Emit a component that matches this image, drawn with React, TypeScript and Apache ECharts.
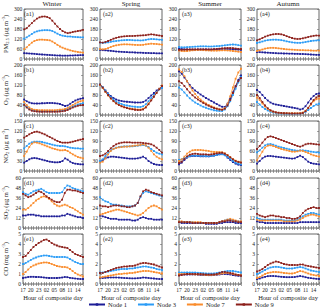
import React, { useEffect, useRef } from "react";
import * as echarts from "echarts";

const FONT = "'Liberation Serif', 'DejaVu Serif', serif";

const hours = ["17","18","19","20","21","22","23","00","01","02","03","04","05","06","07","08","09","10","11","12","13","14","15","16"];
const seasons = ["Winter", "Spring", "Summer", "Autumn"];
const nodes = ["Node 1", "Node 3", "Node 7", "Node 9"];
const nodeColors = ["#1c1c96", "#2b9cf6", "#fa8c2c", "#8c1f1a"];

// PM2.5 (µg m-3) — [Node1, Node3, Node7, Node9]
const pm25Winter = [
  [35,34,33,32,31,29,28,27,26,25,24,23,22,21,21,20,20,20,21,21,22,22,23,23],
  [122,130,140,150,160,166,170,172,173,173,172,168,160,152,145,140,137,135,135,133,132,131,130,130],
  [60,70,85,98,108,113,116,116,115,114,112,105,95,85,75,68,62,57,52,48,45,42,40,38],
  [178,185,200,215,230,242,250,254,255,252,245,230,212,195,180,168,160,155,158,162,165,168,170,175],
];
const pm25Spring = [
  [55,53,52,50,49,47,45,44,43,42,41,40,40,39,38,38,37,36,36,35,35,34,34,34],
  [98,97,98,100,103,106,108,110,112,113,114,114,113,112,112,111,112,115,118,120,119,118,116,115],
  [60,58,60,65,72,78,82,85,87,88,88,87,86,85,84,84,85,88,90,92,91,90,88,86],
  [100,98,102,108,115,122,127,131,134,136,137,138,138,139,140,141,142,143,146,148,146,143,141,138],
];
const pm25Summer = [
  [62,60,58,57,56,56,56,57,57,57,57,56,56,57,58,59,60,60,60,59,58,57,56,55],
  [72,70,70,71,72,73,74,75,76,76,76,75,75,76,77,78,80,82,84,86,87,86,83,80],
  [50,48,47,48,50,52,53,54,54,53,52,51,50,50,50,51,52,52,51,50,48,46,44,42],
  [55,55,56,57,58,58,58,58,58,58,58,58,58,59,60,62,64,65,66,66,65,63,61,60],
];
const pm25Autumn = [
  [42,41,40,39,38,37,36,35,34,34,33,33,32,32,31,31,30,30,29,28,27,26,25,25],
  [96,100,105,110,113,115,116,116,115,113,110,106,103,100,98,97,97,99,102,105,108,110,111,112],
  [48,52,57,62,65,67,67,66,64,62,60,58,57,56,55,54,53,53,52,52,51,50,50,50],
  [112,118,126,134,140,145,148,150,150,148,143,137,131,126,122,120,121,124,128,132,136,139,141,140],
];

// O3 (µg m-3)
const o3Winter = [
  [62,55,50,47,46,46,46,47,47,48,48,48,47,46,44,40,36,38,45,52,58,62,65,67],
  [42,32,25,20,17,16,15,15,15,15,15,15,15,16,17,18,20,24,29,34,38,42,45,47],
  [52,40,30,24,21,20,19,19,19,19,19,19,19,20,21,22,24,28,34,40,46,51,55,58],
  [40,30,22,17,15,14,13,13,13,13,13,13,13,13,14,15,17,20,25,30,34,37,39,40],
];
const o3Spring = [
  [120,110,98,86,76,68,62,58,56,54,53,52,51,50,50,50,52,58,68,78,88,98,105,110],
  [122,112,98,84,72,62,54,48,44,40,38,36,34,33,32,32,35,43,55,68,80,92,102,108],
  [120,108,92,78,65,55,46,40,35,31,28,26,24,23,22,22,25,33,46,60,75,90,105,118],
  [122,110,94,80,67,56,47,40,35,31,28,25,23,21,20,20,22,30,43,58,73,88,103,116],
];
const o3Summer = [
  [175,165,150,135,120,108,98,90,82,75,68,62,56,50,44,38,33,32,45,65,90,115,140,158],
  [110,102,90,78,67,58,50,44,38,33,29,25,22,19,17,16,16,22,35,55,80,105,130,152],
  [182,172,155,135,115,98,84,72,62,53,46,40,35,30,26,23,22,28,45,75,110,145,170,185],
  [135,128,116,103,90,79,70,62,55,48,42,37,32,28,25,22,21,25,38,60,88,115,135,148],
];
const o3Autumn = [
  [100,92,80,68,58,50,45,42,40,38,36,34,32,30,28,26,22,25,35,50,65,76,84,86],
  [52,42,32,24,18,13,10,8,7,6,6,5,5,5,5,5,6,8,13,20,28,36,42,45],
  [70,60,46,34,24,17,13,10,9,8,7,7,7,7,7,7,8,10,17,28,42,55,63,66],
  [80,68,52,38,27,19,14,11,9,8,7,7,6,6,6,6,6,8,15,28,45,60,70,76],
];

// NO2 (µg m-3)
const no2Winter = [
  [25,30,35,38,39,38,36,34,32,30,28,27,26,26,27,30,38,34,28,24,22,21,20,20],
  [68,75,82,86,88,88,88,87,85,83,81,79,77,76,75,75,74,72,70,69,68,68,67,67],
  [45,58,72,82,86,85,83,80,77,74,71,68,66,64,62,62,63,60,55,50,46,42,40,38],
  [100,105,110,114,117,118,116,113,110,106,102,98,94,90,87,85,85,85,86,88,90,92,94,96],
];
const no2Spring = [
  [28,33,38,41,43,43,42,41,40,39,38,37,37,37,38,40,43,38,30,25,21,19,18,18],
  [30,35,45,55,62,67,70,72,73,74,74,74,74,75,76,77,78,76,72,66,60,55,52,50],
  [25,28,38,50,60,66,69,71,72,73,73,74,75,76,77,78,80,77,70,60,50,43,38,35],
  [45,47,52,60,68,75,80,83,85,86,86,86,85,85,85,85,84,83,82,80,76,70,63,55],
];
const no2Summer = [
  [20,25,33,40,44,45,45,45,44,44,44,44,45,46,48,50,52,48,40,33,27,22,19,18],
  [33,35,38,42,45,46,46,46,45,45,45,44,45,46,48,50,50,47,42,36,30,25,22,20],
  [30,35,43,52,58,62,63,63,63,62,61,60,58,57,57,57,56,53,48,42,36,31,28,26],
  [24,28,36,44,49,51,52,51,50,50,50,49,50,51,53,54,55,52,47,41,35,30,27,25],
];
const no2Autumn = [
  [22,30,38,43,45,45,44,43,42,41,40,39,38,37,38,42,46,42,35,28,24,22,21,20],
  [56,62,70,77,80,81,79,76,73,71,69,67,65,63,62,61,62,62,61,60,58,57,56,55],
  [32,45,58,70,76,77,75,72,69,66,64,62,60,58,58,59,61,60,57,54,50,47,45,43],
  [66,75,85,95,102,104,102,99,96,93,90,87,84,81,78,75,73,76,80,82,82,81,80,79],
];

// SO2 (µg m-3)
const so2Winter = [
  [15,15,16,16,16,15,15,14,14,14,14,14,14,14,14,15,15,17,16,15,14,13,13,12],
  [43,41,40,42,44,45,46,47,45,43,42,42,42,42,42,43,48,51,50,48,47,46,45,44],
  [22,22,24,27,30,33,35,37,38,37,35,32,29,27,26,27,28,27,25,24,22,20,18,16],
  [41,39,37,38,40,42,44,43,41,38,36,34,32,31,31,34,42,46,46,45,45,44,43,42],
];
const so2Spring = [
  [15,14,13,12,11,11,11,10,10,10,10,10,9,9,10,12,13,12,11,11,10,10,10,10],
  [37,34,32,31,29,28,28,27,27,26,26,26,26,27,30,37,42,44,43,42,41,40,39,38],
  [16,17,18,19,20,21,22,22,21,20,19,18,17,16,15,16,18,21,24,26,27,26,24,22],
  [27,26,26,25,26,27,27,27,26,26,25,25,26,27,30,38,44,46,45,43,42,41,40,39],
];
const so2Summer = [
  [7,6,6,6,6,6,6,6,6,6,5,5,5,5,5,6,6,7,7,7,7,6,6,6],
  [8,7,7,7,7,7,6,6,6,6,6,6,6,6,6,7,8,9,10,10,9,8,8,7],
  [8,8,7,7,7,7,7,7,7,6,6,6,6,6,6,7,8,9,10,11,10,9,8,8],
  [7,7,7,7,7,6,6,6,6,6,6,6,6,6,6,7,8,8,9,9,8,8,7,7],
];
const so2Autumn = [
  [8,7,7,6,6,6,6,6,6,6,6,6,6,6,6,6,7,7,7,7,7,7,7,7],
  [12,11,10,10,10,10,10,10,10,10,9,9,9,9,9,10,12,14,16,17,18,18,17,16],
  [10,9,9,9,9,9,9,9,9,9,8,8,8,8,8,9,10,12,14,15,16,16,15,14],
  [17,15,14,13,14,15,15,14,14,13,13,12,12,11,11,12,14,18,21,23,24,25,24,24],
];

// CO (mg m-3)
const coWinter = [
  [0.6,0.65,0.7,0.72,0.72,0.7,0.7,0.68,0.65,0.62,0.6,0.6,0.6,0.6,0.62,0.65,0.7,0.68,0.62,0.58,0.55,0.52,0.5,0.5],
  [2.0,2.1,2.25,2.4,2.55,2.65,2.75,2.8,2.85,2.85,2.8,2.75,2.7,2.7,2.7,2.7,2.7,2.65,2.5,2.35,2.2,2.1,2.0,2.0],
  [1.0,1.2,1.45,1.7,1.85,1.95,2.05,2.1,2.15,2.15,2.1,2.0,1.9,1.8,1.75,1.7,1.7,1.65,1.5,1.3,1.1,0.95,0.85,0.75],
  [2.7,2.8,3.1,3.4,3.7,3.9,4.1,4.25,4.4,4.45,4.3,4.1,3.95,3.85,3.75,3.7,3.65,3.6,3.4,3.2,3.0,2.9,2.8,2.7],
];
const coSpring = [
  [0.6,0.6,0.62,0.64,0.65,0.65,0.65,0.64,0.62,0.6,0.58,0.57,0.56,0.56,0.58,0.6,0.65,0.63,0.6,0.57,0.55,0.52,0.5,0.5],
  [1.15,1.15,1.2,1.25,1.3,1.35,1.4,1.45,1.5,1.5,1.5,1.55,1.55,1.6,1.65,1.7,1.75,1.75,1.7,1.65,1.6,1.5,1.45,1.4],
  [0.65,0.7,0.75,0.8,0.85,0.9,0.95,1.0,1.0,1.05,1.05,1.1,1.1,1.15,1.2,1.25,1.3,1.3,1.3,1.25,1.2,1.15,1.1,1.05],
  [1.1,1.1,1.2,1.3,1.4,1.5,1.6,1.65,1.7,1.75,1.75,1.8,1.8,1.85,1.95,2.05,2.1,2.1,2.05,2.0,1.95,1.85,1.75,1.65],
];
const coSummer = [
  [0.95,0.95,0.95,0.95,0.95,0.95,0.95,0.93,0.9,0.9,0.88,0.88,0.88,0.9,0.92,0.95,1.0,1.0,0.98,0.95,0.9,0.85,0.82,0.8],
  [1.15,1.15,1.15,1.15,1.15,1.15,1.15,1.12,1.1,1.08,1.05,1.05,1.05,1.05,1.1,1.15,1.2,1.25,1.3,1.3,1.3,1.25,1.2,1.15],
  [1.0,1.0,1.0,1.0,1.0,0.98,0.95,0.95,0.95,0.93,0.9,0.9,0.9,0.92,0.95,1.0,1.05,1.1,1.1,1.05,1.0,0.95,0.9,0.85],
  [0.85,0.9,0.95,1.0,1.0,1.0,1.0,1.0,1.0,0.98,0.95,0.95,0.95,0.97,1.0,1.1,1.2,1.2,1.15,1.1,1.05,0.95,0.9,0.85],
];
const coAutumn = [
  [0.5,0.55,0.65,0.72,0.78,0.8,0.8,0.78,0.75,0.72,0.7,0.68,0.68,0.68,0.7,0.75,0.8,0.75,0.68,0.62,0.58,0.55,0.52,0.5],
  [1.0,1.1,1.25,1.4,1.55,1.65,1.7,1.72,1.7,1.65,1.6,1.55,1.55,1.55,1.6,1.65,1.7,1.65,1.55,1.45,1.35,1.3,1.25,1.2],
  [0.6,0.7,0.85,1.0,1.1,1.15,1.2,1.2,1.18,1.15,1.1,1.08,1.05,1.05,1.1,1.2,1.3,1.25,1.15,1.05,0.95,0.9,0.85,0.8],
  [1.25,1.35,1.5,1.7,1.9,2.05,2.15,2.25,2.2,2.1,2.0,1.95,1.9,1.9,1.9,1.9,1.95,1.95,1.85,1.8,1.75,1.7,1.65,1.6],
];

const rows = [
  { letter: "a", max: 300, interval: 60, name: "{n|PM}{sub|2.5}{n| (μg m}{sup|-3}{n|)}", data: [pm25Winter, pm25Spring, pm25Summer, pm25Autumn] },
  { letter: "b", max: 200, interval: 40, name: "{n|O}{sub|3}{n| (μg m}{sup|-3}{n|)}", data: [o3Winter, o3Spring, o3Summer, o3Autumn] },
  { letter: "c", max: 150, interval: 30, name: "{n|NO}{sub|2}{n| (μg m}{sup|-3}{n|)}", data: [no2Winter, no2Spring, no2Summer, no2Autumn] },
  { letter: "d", max: 60, interval: 12, name: "{n|SO}{sub|2}{n| (μg m}{sup|-3}{n|)}", data: [so2Winter, so2Spring, so2Summer, so2Autumn] },
  { letter: "e", max: 5, interval: 1, name: "{n|CO (mg m}{sup|-3}{n|)}", data: [coWinter, coSpring, coSummer, coAutumn] },
];

const GL = [21, 100, 179, 257];
const GW = 62;
const GT = [9, 65, 121, 178, 234];
const GH = 50;
const AX = "#666";
const TXT = "#222";

export default function App() {
  const ref = useRef<HTMLDivElement>(null);
  useEffect(() => {
    if (!ref.current) return;
    const chart = echarts.init(ref.current, undefined, { renderer: "svg" });
    const grids: any[] = [];
    const xAxes: any[] = [];
    const yAxes: any[] = [];
    const series: any[] = [];
    const graphics: any[] = [];
    const tick = { show: true, inside: true, length: 2, lineStyle: { color: AX, width: 0.6 } };
    rows.forEach((row, r) => {
      seasons.forEach((s, c) => {
        const gi = r * 4 + c;
        grids.push({ left: GL[c], top: GT[r], width: GW, height: GH, show: true, borderColor: AX, borderWidth: 1, backgroundColor: "transparent" });
        const isBottom = r === rows.length - 1;
        xAxes.push({
          type: "category", gridIndex: gi, data: hours, boundaryGap: false, position: "bottom",
          axisLine: { show: false }, splitLine: { show: false },
          axisTick: { ...tick, interval: 0 },
          axisLabel: { show: isBottom, interval: 2, fontSize: 5.5, margin: 3, color: TXT, fontFamily: FONT },
          name: isBottom ? "Hour of composite day" : "", nameLocation: "middle", nameGap: 10,
          nameTextStyle: { fontSize: 6.5, color: TXT, fontFamily: FONT },
        });
        xAxes.push({
          type: "category", gridIndex: gi, data: hours, boundaryGap: false, position: "top",
          axisLine: { show: false }, splitLine: { show: false },
          axisTick: { ...tick, interval: 0 }, axisLabel: { show: false },
        });
        yAxes.push({
          type: "value", gridIndex: gi, min: 0, max: row.max, interval: row.interval, position: "left",
          axisLine: { show: false }, splitLine: { show: false }, axisTick: tick,
          axisLabel: { fontSize: 5.5, margin: 2, color: TXT, fontFamily: FONT },
          name: c === 0 ? row.name : "", nameLocation: "middle", nameRotate: 90, nameGap: 13,
          nameTextStyle: {
            fontFamily: FONT, color: TXT,
            rich: {
              n: { fontSize: 6.5, fontFamily: FONT, color: TXT, lineHeight: 9 },
              sub: { fontSize: 4.5, fontFamily: FONT, color: TXT, verticalAlign: "bottom", lineHeight: 9 },
              sup: { fontSize: 4.5, fontFamily: FONT, color: TXT, verticalAlign: "top", lineHeight: 9 },
            },
          },
        });
        yAxes.push({
          type: "value", gridIndex: gi, min: 0, max: row.max, interval: row.interval, position: "right",
          axisLine: { show: false }, splitLine: { show: false }, axisTick: tick, axisLabel: { show: false },
        });
        row.data[c].forEach((vals, k) => {
          series.push({
            type: "line", name: nodes[k], xAxisIndex: gi * 2, yAxisIndex: gi * 2, data: vals,
            symbol: "rect", symbolSize: 1.8, showSymbol: true, showAllSymbol: true,
            lineStyle: { width: 0.8, color: nodeColors[k] }, itemStyle: { color: nodeColors[k] },
          });
        });
        graphics.push({
          type: "text", left: GL[c] + 3, top: GT[r] + 2,
          style: { text: `(${row.letter}${c + 1})`, fontSize: 6, fontFamily: FONT, fill: TXT },
        });
        if (r === 0) {
          graphics.push({
            type: "text", x: GL[c] + GW / 2, y: 0,
            style: { text: s, fontSize: 7, fontFamily: FONT, fill: TXT, align: "center", verticalAlign: "top" },
          });
        }
      });
    });
    chart.setOption({
      animation: false,
      grid: grids,
      xAxis: xAxes,
      yAxis: yAxes,
      series,
      graphic: graphics,
      legend: {
        data: nodes, orient: "horizontal", left: 88, top: 301, width: 232, itemWidth: 16, itemHeight: 3, itemGap: 10,
        textStyle: { fontSize: 6.5, fontFamily: FONT, color: TXT, padding: [0, 0, 0, -2] }, padding: 0,
      },
    });
    return () => chart.dispose();
  }, []);
  return <div ref={ref} style={{ position: "fixed", left: 0, top: 0, width: 320, height: 307, background: "#fff" }} />;
}
